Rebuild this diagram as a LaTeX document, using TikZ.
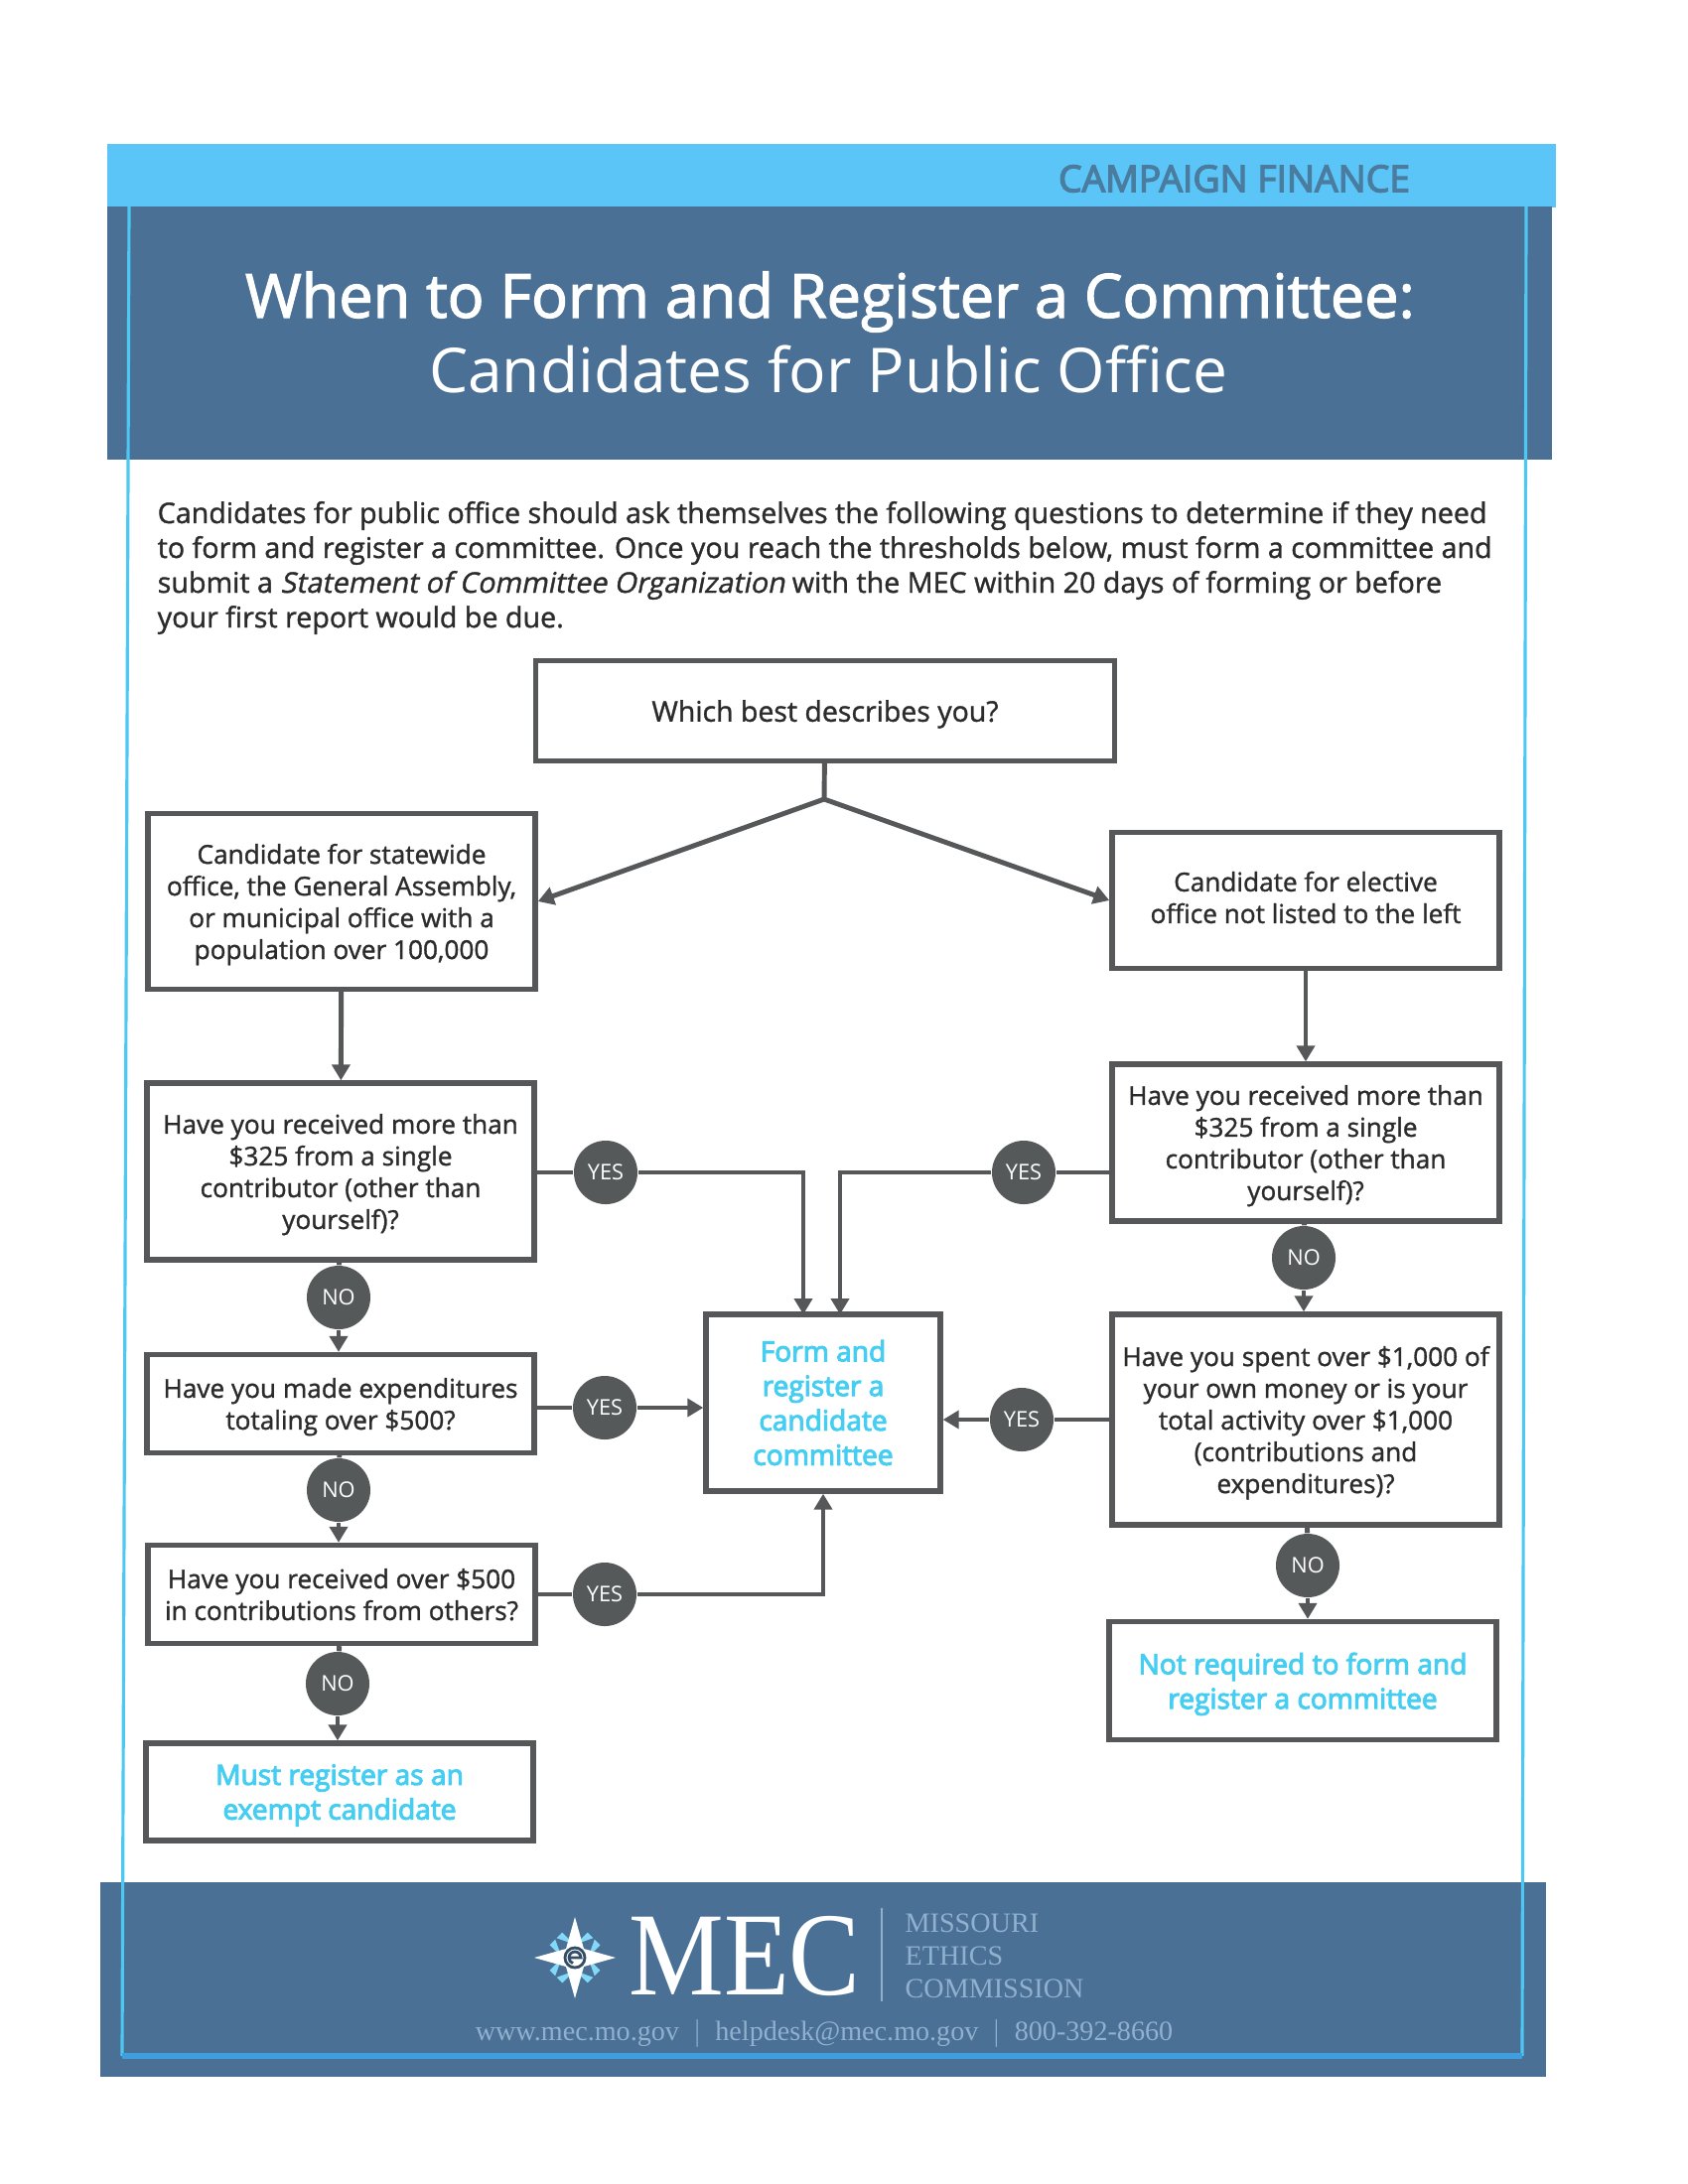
\documentclass[tikz,border=0pt]{standalone}
\usepackage{fontspec}
\usepackage{xcolor}
\usetikzlibrary{arrows.meta,positioning,calc}
\setmainfont{Open Sans}
\newfontfamily\heavyfont[FakeBold=1.2]{Open Sans}
\newfontfamily\strongfont[FakeBold=3.5]{Open Sans}
\newfontfamily\titlefont[FakeBold=2]{Open Sans}
\newfontfamily\slantfont[FakeBold=1.2,FakeSlant=0.2]{Open Sans}
\newfontfamily\mecfont[FakeStretch=0.9]{Liberation Serif}
\newfontfamily\paperfont{Liberation Serif}
\definecolor{Sky}{HTML}{5CC5F7}
\definecolor{Slate}{HTML}{4A7095}
\definecolor{Rule}{HTML}{4CC8F2}
\definecolor{Base}{HTML}{3F9EDD}
\definecolor{Ink}{HTML}{2B2B2B}
\definecolor{Edge}{HTML}{555758}
\definecolor{Dot}{HTML}{56595A}
\definecolor{Aqua}{HTML}{45CDF2}
\definecolor{Tag}{HTML}{4A7C9F}
\definecolor{Pale}{HTML}{8FB0CE}
\tikzset{
  qbox/.style={draw=Edge,fill=white,line width=1.5pt,align=center,text=Ink,font=\fontsize{7.45}{9.1}\selectfont\heavyfont,inner sep=0pt,minimum width=3.9cm,text depth=0pt},
  endbox/.style={draw=Edge,fill=white,line width=1.5pt,align=center,text=Aqua,font=\fontsize{8}{9.9}\selectfont\strongfont,inner sep=0pt,minimum width=3.9cm},
  lowbox/.style={endbox,text depth=-0.6pt},
  tagdot/.style={circle,draw=none,fill=Dot,minimum size=0.64cm,inner sep=0pt,text=white,font=\fontsize{6.2}{7}\selectfont},
  arr/.style={-{Triangle[length=1.6mm,width=1.8mm]},draw=Edge,line width=1.4pt},
  link/.style={draw=Edge,line width=1.4pt},
  paper/.style={anchor=west,inner sep=0pt,text=Pale,font=\fontsize{8}{9}\selectfont\paperfont}
}
\begin{document}
\begin{tikzpicture}[x=0.01cm,y=-0.01cm]
  \useasboundingbox (0,0) rectangle (1700,2200);
  % bands
  \fill[Sky] (108,145) rectangle (1567,209);
  \fill[Slate] (108,208) rectangle (1563,463);
  \fill[Slate] (101,1896) rectangle (1557,2092);
  \draw[Rule,line width=0.9pt] (130,208) -- (123,2071);
  \draw[Rule,line width=0.9pt] (1537,208) -- (1533,2071);
  \draw[Base,line width=1.5pt] (123,2071) -- (1533,2071);
  \node[text=Tag,font=\fontsize{10.6}{12}\selectfont\strongfont] (tag) at (1243,180) {CAMPAIGN FINANCE};
  \node[text=white,font=\fontsize{17.4}{20}\selectfont\titlefont] (title) at (836,304) {When to Form and Register a Committee:};
  \node[text=white,font=\fontsize{17.7}{20}\selectfont] (subtitle) at (834,372) {Candidates for Public Office};
  \node[anchor=west,align=left,inner sep=0pt,text=Ink,font=\fontsize{8.15}{9.96}\selectfont\heavyfont] (intro) at (158,572) {Candidates for public office should ask themselves the following questions to determine if they need\\
    to form and register a committee. Once you reach the thresholds below, must form a committee and\\
    submit a {\slantfont Statement of Committee Organization} with the MEC within 20 days of forming or before\\
    your first report would be due.};
  % question boxes
  \node[qbox,minimum width=5.82cm,minimum height=1.01cm,font=\fontsize{8.1}{9.1}\selectfont\heavyfont,text depth=-0.6pt] (root) at (831,716) {Which best describes you?};
  \node[qbox,minimum height=1.77cm] (left1) at (344,908) {Candidate for statewide\\office, the General Assembly,\\or municipal office with a\\population over 100,000};
  \node[qbox,minimum height=1.37cm,text depth=1.8pt] (right1) at (1315,907) {Candidate for elective\\office not listed to the left};
  \node[qbox,minimum height=1.78cm] (left2) at (343,1180) {Have you received more than\\\$325 from a single\\contributor (other than\\yourself)?};
  \node[qbox,minimum height=1.58cm] (right2) at (1315,1151) {Have you received more than\\\$325 from a single\\contributor (other than\\yourself)?};
  \node[qbox,minimum height=0.99cm] (left3) at (343,1414) {Have you made expenditures\\totaling over \$500?};
  \node[qbox,minimum height=2.12cm] (right3) at (1315,1430) {Have you spent over \$1,000 of\\your own money or is your\\total activity over \$1,000\\(contributions and\\expenditures)?};
  \node[qbox,minimum height=0.99cm] (left4) at (344,1606) {Have you received over \$500\\in contributions from others?};
  \node[endbox,minimum width=2.36cm,minimum height=1.78cm] (center) at (829,1413) {Form and\\register a\\candidate\\committee};
  \node[lowbox,minimum height=0.98cm] (left5) at (342,1805) {Must register as an\\exempt candidate};
  \node[lowbox,minimum height=1.19cm] (right4) at (1312,1693) {Not required to form and\\register a committee};
  % yes and no dots
  \node[tagdot] (yes1) at (610,1181) {YES};
  \node[tagdot] (yes2) at (1031,1181) {YES};
  \node[tagdot] (yes3) at (609,1418) {YES};
  \node[tagdot] (yes4) at (1029,1430) {YES};
  \node[tagdot] (yes5) at (609,1606) {YES};
  \node[tagdot] (no1) at (341,1307) {NO};
  \node[tagdot] (no2) at (341,1501) {NO};
  \node[tagdot] (no3) at (340,1696) {NO};
  \node[tagdot] (no4) at (1313,1267) {NO};
  \node[tagdot] (no5) at (1317,1577) {NO};
  % connectors
  \coordinate (fork) at (830,805);
  \coordinate (inleft) at (809,1324);
  \coordinate (inright) at (846,1324);
  \draw[link] (root) -- (fork);
  \draw[arr] (fork) -- (left1.east);
  \draw[arr] (fork) -- (right1.west);
  \draw[arr] (left1) -- (left2);
  \draw[arr] (right1) -- (right2);
  \draw[link] (left2) -- (no1);
  \draw[arr] (no1.south) -- (no1.south |- left3.north);
  \draw[link] (left3) -- (no2);
  \draw[arr] (no2.south) -- (no2.south |- left4.north);
  \draw[link] (left4) -- (no3);
  \draw[arr] (no3.south) -- (no3.south |- left5.north);
  \draw[link] (right2) -- (no4);
  \draw[arr] (no4.south) -- (no4.south |- right3.north);
  \draw[link] (right3) -- (no5);
  \draw[arr] (no5.south) -- (no5.south |- right4.north);
  \draw[link] (left2.east |- yes1) -- (yes1);
  \draw[arr] (yes1.east) -| (inleft);
  \draw[link] (right2.west |- yes2) -- (yes2);
  \draw[arr] (yes2.west) -| (inright);
  \draw[link] (left3.east |- yes3) -- (yes3);
  \draw[arr] (yes3.east) -- (center.west |- yes3);
  \draw[link] (right3.west |- yes4) -- (yes4);
  \draw[arr] (yes4.west) -- (center.east |- yes4);
  \draw[link] (left4.east) -- (yes5);
  \draw[arr] (yes5.east) -| (center.south);
  % footer
  \foreach \ang in {45,135,225,315}{
    \fill[Rule!70!white,shift={(579,1972)},rotate=\ang] (10,-9) -- (27,-9) -- (27,-1) -- cycle;
    \fill[Rule!70!white,shift={(579,1972)},rotate=\ang] (10,9) -- (27,9) -- (27,1) -- cycle;
  }
  \fill[white] (579,1931) -- (588,1963) -- (620,1972) -- (588,1981) -- (579,2013) -- (570,1981) -- (538,1972) -- (570,1963) -- cycle;
  \draw[Slate!70!black,line width=0.8pt] (579,1972) circle (10);
  \draw[Slate!70!black,line width=0.8pt] (573,1972) -- (585,1972) arc (0:-250:6);
  \node[text=white,inner sep=0pt,font=\fontsize{34}{36}\selectfont\mecfont] (mec) at (750,1970) {MEC};
  \draw[Pale,line width=0.5pt] (888,1922) -- (888,2016);
  \node[paper] (missouri) at (911,1937) {MISSOURI};
  \node[paper] (ethics) at (911,1970) {ETHICS};
  \node[paper] (commission) at (911,2003) {COMMISSION};
  \node[paper,anchor=center] (contact) at (830,2048) {www.mec.mo.gov \ $|$ \ helpdesk@mec.mo.gov \ $|$ \ 800-392-8660};
\end{tikzpicture}
\end{document}
